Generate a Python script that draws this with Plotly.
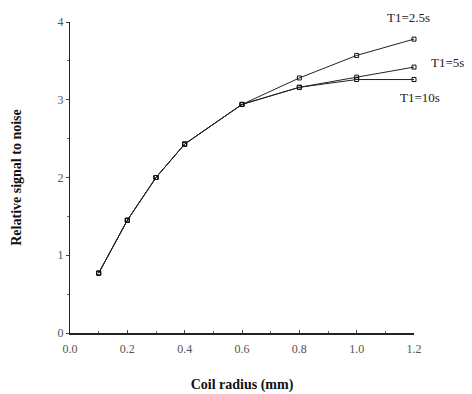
import plotly.graph_objects as go

radius = [0.1, 0.2, 0.3, 0.4, 0.6, 0.8, 1.0, 1.2]
snr_t1_2_5 = [0.77, 1.45, 2.00, 2.43, 2.94, 3.28, 3.57, 3.78]
snr_t1_5 = [0.77, 1.45, 2.00, 2.43, 2.94, 3.16, 3.29, 3.42]
snr_t1_10 = [0.77, 1.45, 2.00, 2.43, 2.94, 3.16, 3.26, 3.26]
series_names = ["T1=2.5s", "T1=5s", "T1=10s"]
x_ticks = [0.0, 0.2, 0.4, 0.6, 0.8, 1.0, 1.2]
x_tick_labels = ["0.0", "0.2", "0.4", "0.6", "0.8", "1.0", "1.2"]
y_ticks = [0, 1, 2, 3, 4]

fig = go.Figure()
for name, ys in zip(series_names, [snr_t1_2_5, snr_t1_5, snr_t1_10]):
    fig.add_trace(go.Scatter(
        x=radius, y=ys, mode="lines+markers", name=name,
        line=dict(color="#222222", width=1),
        marker=dict(symbol="square-open", size=4, color="#111111", line=dict(width=1)),
        cliponaxis=False,
    ))

font_fam = "Liberation Serif, Times New Roman, serif"
labels = [("T1=2.5s", 0.916, 1.016), ("T1=5s", 1.044, 0.871), ("T1=10s", 0.953, 0.756)]
for txt, px, py in labels:
    fig.add_annotation(x=px, y=py, xref="paper", yref="paper", text=txt, showarrow=False,
                       xanchor="left", yanchor="middle",
                       font=dict(family=font_fam, size=13, color="#222222"))

fig.update_layout(
    width=472, height=394,
    margin=dict(l=62, r=66, t=14, b=69, autoexpand=False),
    paper_bgcolor="white", plot_bgcolor="white",
    showlegend=False,
    font=dict(family=font_fam, color="#333333"),
)
fig.update_xaxes(
    range=[0, 1.2], tickvals=x_ticks, ticktext=x_tick_labels,
    showgrid=False, zeroline=False, showline=True, linecolor="#222222", linewidth=1.5,
    ticks="inside", ticklen=3, tickcolor="#444444",
    minor=dict(dtick=0.1, ticks="inside", ticklen=2, tickcolor="#666666"),
    tickfont=dict(family=font_fam, size=12, color="#555555"),
    ticklabelstandoff=4,
    automargin=False,
    title=dict(text="<b>Coil radius (mm)</b>", font=dict(family=font_fam, size=14, color="#111111"), standoff=24),
)
fig.update_yaxes(
    range=[0, 4], tickvals=y_ticks,
    showgrid=False, zeroline=False, showline=True, linecolor="#222222", linewidth=1,
    ticks="outside", ticklen=3, tickcolor="#444444",
    minor=dict(dtick=0.5, ticks="outside", ticklen=2, tickcolor="#666666"),
    tickfont=dict(family=font_fam, size=12, color="#555555"),
    automargin=False,
    title=dict(text="<b>Relative signal to noise</b>", font=dict(family=font_fam, size=14, color="#111111"), standoff=32),
)

fig.write_html("out.html")
